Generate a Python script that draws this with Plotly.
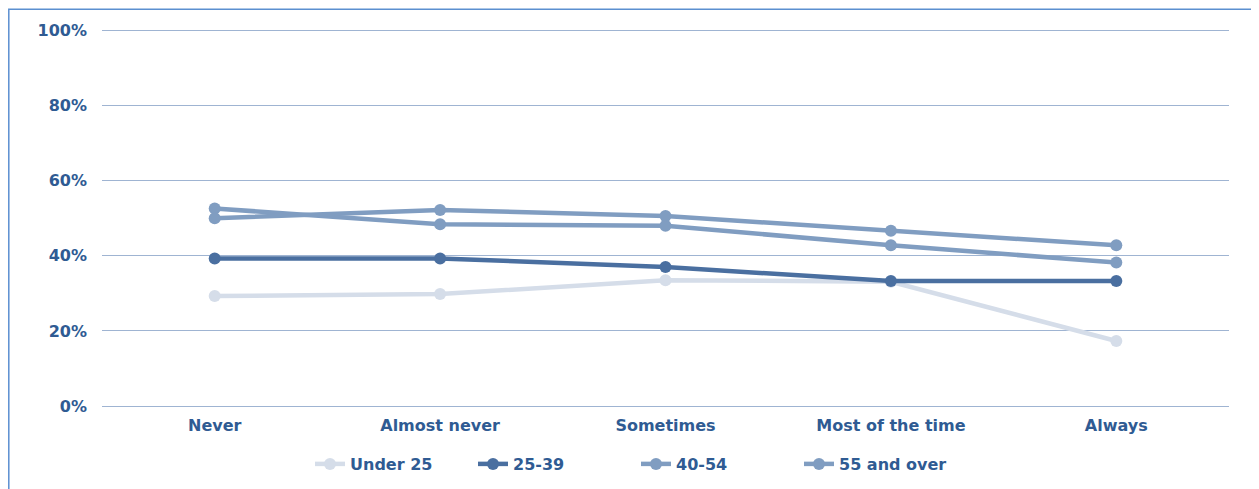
import plotly.graph_objects as go

categories = ["Never", "Almost never", "Sometimes", "Most of the time", "Always"]
under_25 = [0.293, 0.298, 0.335, 0.331, 0.173]
age_25_39 = [0.393, 0.393, 0.370, 0.333, 0.333]
age_40_54 = [0.526, 0.484, 0.480, 0.428, 0.382]
age_55_over = [0.500, 0.522, 0.506, 0.467, 0.428]
series_names = ["Under 25", "25-39", "40-54", "55 and over"]
tick_vals = [0, 0.2, 0.4, 0.6, 0.8, 1.0]
tick_text = ["0%", "20%", "40%", "60%", "80%", "100%"]

colors = ["#d5dde9", "#4a6fa0", "#809dc1", "#809dc1"]
series = [under_25, age_25_39, age_40_54, age_55_over]

fig = go.Figure()
for name, vals, col in zip(series_names, series, colors):
    fig.add_trace(go.Scatter(
        x=categories, y=vals, name=name, mode="lines+markers",
        line=dict(color=col, width=4.5),
        marker=dict(color=col, size=12),
    ))

font_col = "#2f5b93"
tf = dict(family="DejaVu Sans", size=16, color=font_col, weight="bold")
fig.update_layout(
    width=1251, height=481,
    margin=dict(l=94, r=30, t=20.5, b=83, autoexpand=False),
    paper_bgcolor="white", plot_bgcolor="white",
    font=dict(family="DejaVu Sans", size=16, color=font_col),
    xaxis=dict(range=[-0.5, 4.5], showgrid=False, zeroline=False, showline=False,
               ticks="", tickfont=tf, ticklabelstandoff=8),
    yaxis=dict(range=[0, 1.004], tickvals=tick_vals, ticktext=tick_text,
               showgrid=True, gridcolor="#9fb4d2", gridwidth=1.3,
               zeroline=True, zerolinecolor="#9fb4d2", zerolinewidth=1.3,
               showline=False, ticks="", ticklabelstandoff=14,
               tickfont=tf),
    legend=dict(orientation="h", xref="container", yref="container",
                x=0.502, xanchor="center", y=0.052, yanchor="middle",
                font=tf, entrywidth=118, entrywidthmode="pixels", tracegroupgap=0),
    showlegend=True,
)
fig.add_shape(type="rect", xref="paper", yref="paper",
              x0=-0.0827, x1=1.0244, y0=-0.3, y1=1.0523,
              line=dict(color="#5b8fd0", width=1.5), fillcolor="rgba(0,0,0,0)", layer="below")

fig.write_html("out.html")
